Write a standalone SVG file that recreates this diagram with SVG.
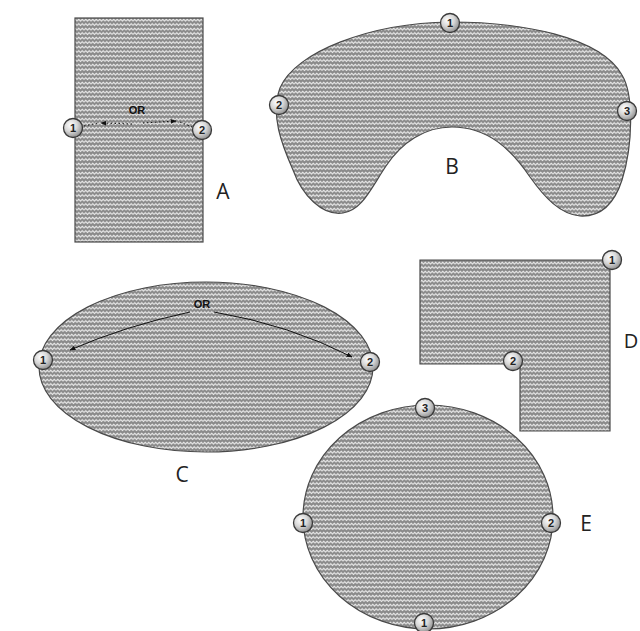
<svg xmlns="http://www.w3.org/2000/svg" width="640" height="631" viewBox="0 0 640 631">
<defs>
<pattern id="knit" width="7" height="4.5" patternUnits="userSpaceOnUse">
<rect width="7" height="4.5" fill="#8a8a8a"/>
<path d="M0,3 L1.75,1.2 L3.5,3 L5.25,1.2 L7,3" fill="none" stroke="#f0f0f0" stroke-width="1.1"/>
</pattern>
<radialGradient id="ball" cx="0.38" cy="0.35" r="0.7">
<stop offset="0" stop-color="#ffffff"/>
<stop offset="0.5" stop-color="#d6d6d6"/>
<stop offset="1" stop-color="#8a8a8a"/>
</radialGradient>
<marker id="ah" viewBox="0 0 10 10" refX="9" refY="5" markerWidth="6" markerHeight="6" orient="auto-start-reverse">
<path d="M0,1 L10,5 L0,9 Z" fill="#111"/>
</marker>
</defs>
<style>
.shape{fill:url(#knit);stroke:#4a4a4a;stroke-width:1.2}
.ball{fill:url(#ball);stroke:#3a3a3a;stroke-width:1.3}
.num{font-family:"Liberation Sans",Arial,sans-serif;font-size:11px;font-weight:bold;fill:#222;text-anchor:middle}
.lbl{font-family:"Open Sans","Liberation Sans",sans-serif;font-size:21px;fill:#222;text-anchor:middle}
.or{font-family:"Liberation Sans",Arial,sans-serif;font-size:11px;font-weight:bold;fill:#111;text-anchor:middle}
.arr{fill:none;stroke:#111;stroke-width:1}
</style>
<rect width="640" height="631" fill="#ffffff"/>

<g id="A">
<rect class="shape" x="75" y="18" width="128" height="224"/>
<text class="lbl" x="223" y="199">A</text>
<text class="or" x="137" y="114">OR</text>
</g>

<g id="B">
<path class="shape" d="M450,22 C520,22 600,36 622,75 C634,95 633,145 622,180 C614,205 600,217 580,216 C560,214 545,198 530,177 C512,150 488,127 452,127 C425,127 402,142 386,166 C370,190 362,210 343,213 C322,216 302,195 293,170 C282,145 270,115 280,88 C295,52 370,23 450,22 Z"/>
<text class="lbl" x="452" y="174">B</text>
</g>

<g id="C">
<ellipse class="shape" cx="206" cy="367" rx="167" ry="85"/>
<text class="lbl" x="182" y="482">C</text>
<text class="or" x="202" y="308">OR</text>
</g>

<g id="D">
<path class="shape" d="M420,260 L610,260 L610,431 L520,431 L520,364 L420,364 Z"/>
<text class="lbl" x="631" y="348" style="font-size:20px">D</text>
</g>

<g id="E">
<ellipse class="shape" cx="428" cy="517" rx="125" ry="112"/>
<text class="lbl" x="586" y="531">E</text>
</g>

<g id="connectors">
<path class="arr" d="M132,124 L101,123" stroke-dasharray="1.5,2.5" marker-end="url(#ah)"/>
<path class="arr" d="M84,126 L98,123" stroke-dasharray="1.5,2.5"/>
<path class="arr" d="M143,123 L176,121" stroke-dasharray="1.5,2.5" marker-end="url(#ah)"/>
<path class="arr" d="M180,122 L192,127" stroke-dasharray="1.5,2.5"/>
<path class="arr" d="M190,312 Q125,326 70,350" marker-end="url(#ah)"/>
<path class="arr" d="M214,312 Q290,325 352,357" marker-end="url(#ah)"/>
</g>

<g id="markers">
<g id="mA1"><circle class="ball" cx="73" cy="128" r="9.5"/><text class="num" x="73" y="132">1</text></g>
<g id="mA2"><circle class="ball" cx="202" cy="130" r="9.5"/><text class="num" x="202" y="134">2</text></g>
<g id="mB1"><circle class="ball" cx="450" cy="23" r="9.5"/><text class="num" x="450" y="27">1</text></g>
<g id="mB2"><circle class="ball" cx="279" cy="105" r="9.5"/><text class="num" x="279" y="109">2</text></g>
<g id="mB3"><circle class="ball" cx="627" cy="111" r="9.5"/><text class="num" x="627" y="115">3</text></g>
<g id="mC1"><circle class="ball" cx="43" cy="360" r="9.5"/><text class="num" x="43" y="364">1</text></g>
<g id="mC2"><circle class="ball" cx="370" cy="362" r="9.5"/><text class="num" x="370" y="366">2</text></g>
<g id="mD1"><circle class="ball" cx="612" cy="260" r="9.5"/><text class="num" x="612" y="264">1</text></g>
<g id="mD2"><circle class="ball" cx="513" cy="361" r="9.5"/><text class="num" x="513" y="365">2</text></g>
<g id="mE3"><circle class="ball" cx="425" cy="408" r="9.5"/><text class="num" x="425" y="412">3</text></g>
<g id="mE1"><circle class="ball" cx="303" cy="523" r="9.5"/><text class="num" x="303" y="527">1</text></g>
<g id="mE2"><circle class="ball" cx="551" cy="523" r="9.5"/><text class="num" x="551" y="527">2</text></g>
<g id="mE1b"><circle class="ball" cx="424" cy="623" r="9.5"/><text class="num" x="424" y="627">1</text></g>
</g>
</svg>
